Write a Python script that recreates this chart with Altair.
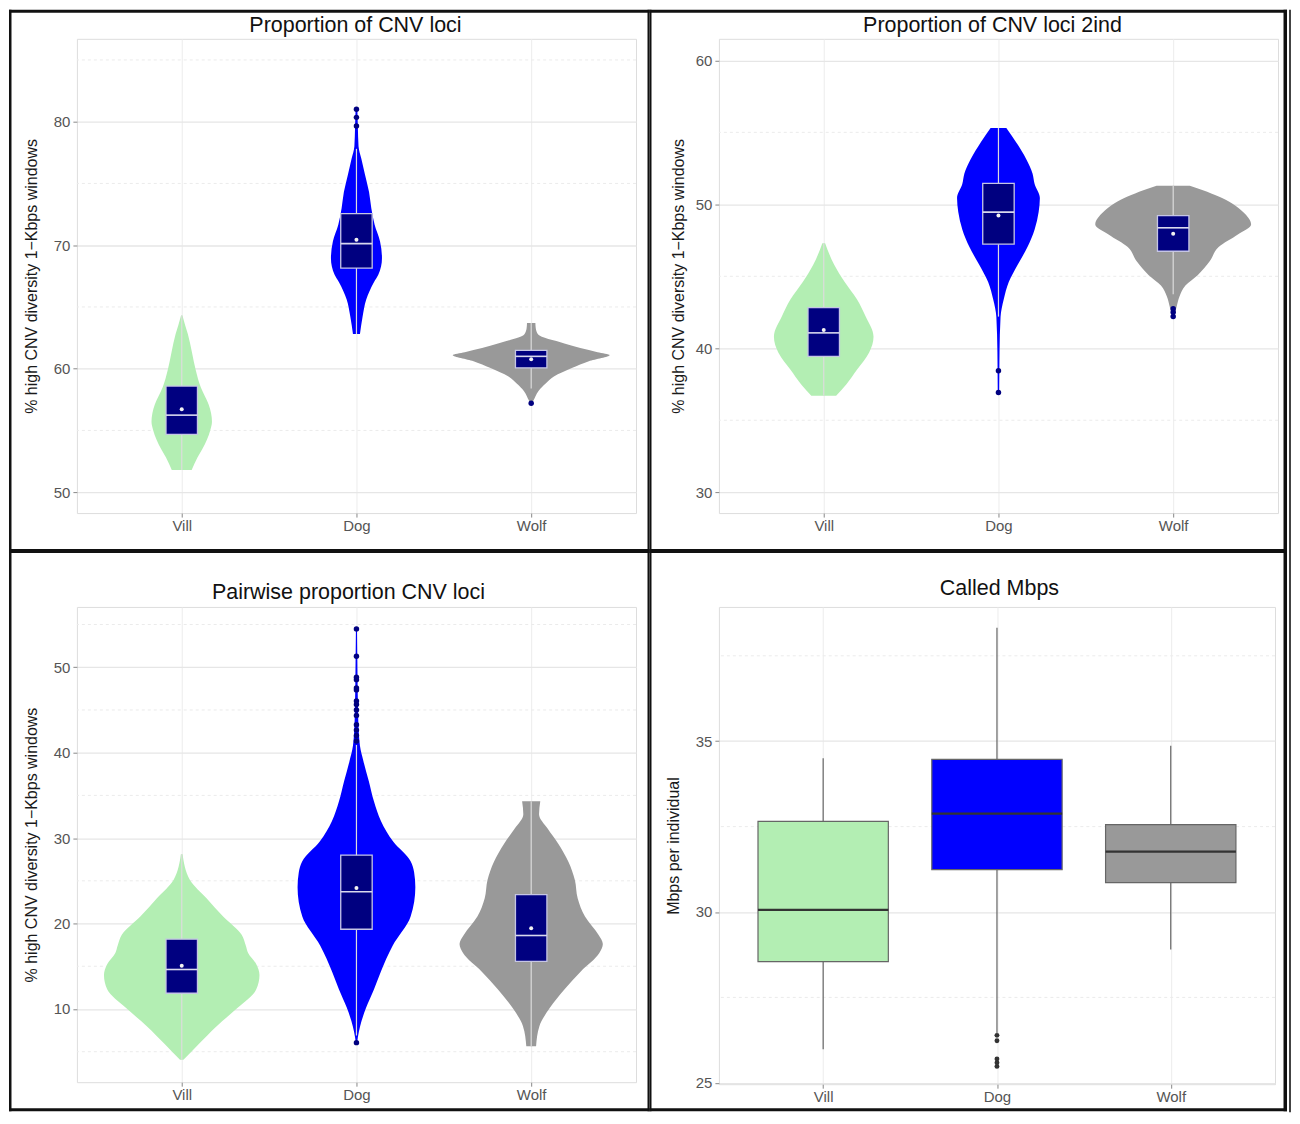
import altair as alt
import pandas as pd

FONT = "Liberation Sans"

# ---------------- shared categories ----------------
categories = ["Vill", "Dog", "Wolf"]
fill_colors = ["#b3eeb3", "#0000ff", "#999999"]
x_domain = [0.4, 3.6]

# ---------------- Panel 1 ----------------
p1_title = "Proportion of CNV loci"
p1_ytitle = "% high CNV diversity 1\u2212Kbps windows"
p1_ydomain = [48.31, 86.71]
p1_major = [50, 60, 70, 80]
p1_minor = [55, 65, 75, 85]
p1_vill_v = [51.8, 52.8, 53.5, 54.25, 55.0, 55.7, 56.4, 57.1, 58.5, 59.9, 61.3, 62.8, 63.5, 64.3]
p1_vill_w = [0.057, 0.09, 0.118, 0.144, 0.163, 0.173, 0.168, 0.154, 0.109, 0.08, 0.059, 0.035, 0.02, 0.004]
p1_dog_v = [62.8, 64.2, 65.6, 67.0, 67.6, 68.95, 70.3, 71.65, 73.0, 74.3, 75.7, 77.0, 78.0, 79.6, 81.0]
p1_dog_w = [0.02, 0.035, 0.056, 0.1, 0.125, 0.146, 0.135, 0.104, 0.085, 0.072, 0.049, 0.028, 0.012, 0.008, 0.005]
p1_wolf_v = [57.2, 57.4, 58.2, 58.8, 59.36, 60.07, 60.6, 61.1, 61.34, 62.05, 62.76, 63.3, 63.7]
p1_wolf_w = [0.004, 0.012, 0.042, 0.083, 0.13, 0.236, 0.33, 0.449, 0.38, 0.19, 0.04, 0.026, 0.024]
p1_q1 = [54.68, 68.15, 60.07]
p1_med = [56.24, 70.13, 61.0]
p1_q3 = [58.59, 72.55, 61.48]
p1_mean = [56.72, 70.45, 60.77]
p1_wlo = [51.8, 62.8, 58.4]
p1_whi = [64.3, 77.8, 63.7]
p1_out_cat = ["Dog", "Dog", "Dog", "Wolf"]
p1_out_v = [79.65, 80.35, 81.0, 57.2]

# ---------------- Panel 2 ----------------
p2_title = "Proportion of CNV loci 2ind"
p2_ytitle = "% high CNV diversity 1\u2212Kbps windows"
p2_ydomain = [28.55, 61.5]
p2_major = [30, 40, 50, 60]
p2_minor = [35, 45, 55]
p2_vill_v = [36.7, 37.5, 38.5, 39.7, 40.8, 42.2, 43.4, 44.6, 45.8, 47.3]
p2_vill_w = [0.071, 0.13, 0.19, 0.26, 0.285, 0.24, 0.19, 0.12, 0.06, 0.008]
p2_dog_v = [36.9, 38.4, 39.7, 42.17, 43.38, 44.6, 45.8, 47.03, 48.25, 49.46, 50.44, 51.41, 52.14, 53.11, 54.33, 55.3]
p2_dog_w = [0.004, 0.005, 0.006, 0.012, 0.03, 0.059, 0.11, 0.166, 0.207, 0.23, 0.237, 0.207, 0.195, 0.16, 0.1, 0.045]
p2_wolf_v = [42.2, 42.9, 43.6, 44.36, 45.08, 46.06, 47.03, 47.9, 48.6, 49.46, 50.44, 51.29]
p2_wolf_w = [0.006, 0.02, 0.036, 0.07, 0.14, 0.21, 0.26, 0.37, 0.446, 0.4, 0.28, 0.095]
p2_q1 = [39.44, 47.23, 46.74]
p2_med = [41.07, 49.46, 48.37]
p2_q3 = [42.82, 51.46, 49.22]
p2_mean = [41.27, 49.22, 47.96]
p2_wlo = [36.7, 42.2, 43.75]
p2_whi = [47.3, 55.3, 51.29]
p2_out_cat = ["Dog", "Dog", "Wolf", "Wolf", "Wolf"]
p2_out_v = [38.44, 36.93, 42.75, 42.5, 42.2]

# ---------------- Panel 3 ----------------
p3_title = "Pairwise proportion CNV loci"
p3_ytitle = "% high CNV diversity 1\u2212Kbps windows"
p3_ydomain = [1.43, 57.06]
p3_major = [10, 20, 30, 40, 50]
p3_minor = [5, 15, 25, 35, 45, 55]
p3_vill_v = [4.05, 5.85, 7.99, 10.13, 12.27, 13.98, 15.26, 16.55, 17.4, 18.68, 20.82, 22.96, 25.1, 28.1]
p3_vill_w = [0.01, 0.095, 0.2, 0.32, 0.426, 0.445, 0.426, 0.38, 0.367, 0.343, 0.237, 0.142, 0.047, 0.005]
p3_dog_v = [6.06, 6.7, 7.99, 10.13, 12.27, 14.4, 17.4, 20.82, 24.25, 26.0, 27.3, 29.6, 32.0, 34.3,
            36.7, 39.0, 40.8, 44.0, 50.8, 54.5]
p3_dog_w = [0.004, 0.008, 0.021, 0.055, 0.1, 0.14, 0.207, 0.31, 0.337, 0.33, 0.31, 0.21, 0.14, 0.1,
            0.07, 0.04, 0.02, 0.01, 0.005, 0.003]
p3_wolf_v = [5.64, 7.99, 10.13, 12.27, 14.4, 16.55, 17.6, 18.68, 20.82, 22.96, 25.1, 27.24, 29.38, 31.09, 32.8, 34.3]
p3_wolf_w = [0.028, 0.047, 0.107, 0.19, 0.284, 0.39, 0.41, 0.385, 0.308, 0.266, 0.25, 0.213, 0.154, 0.095, 0.045, 0.052]
p3_q1 = [11.84, 19.33, 15.56]
p3_med = [14.62, 23.73, 18.6]
p3_q3 = [18.17, 28.0, 23.39]
p3_mean = [15.05, 24.16, 19.45]
p3_wlo = [4.05, 6.9, 5.64]
p3_whi = [28.1, 40.9, 34.3]
p3_out_v = [54.49, 51.28, 48.84, 48.55, 47.56, 47.35, 46.06, 45.64, 45.0, 44.35, 43.28, 42.64, 42.0, 41.36, 6.06]
p3_out_cat = ["Dog"] * len(p3_out_v)

# ---------------- Panel 4 ----------------
p4_title = "Called Mbps"
p4_ytitle = "Mbps per individual"
p4_ydomain = [24.96, 38.93]
p4_major = [25, 30, 35]
p4_minor = [27.5, 32.5, 37.5]
p4_q1 = [28.55, 31.24, 30.86]
p4_med = [30.06, 32.88, 31.77]
p4_q3 = [32.65, 34.47, 32.56]
p4_wlo = [25.98, 26.45, 28.9]
p4_whi = [34.5, 38.32, 34.87]
p4_out_cat = ["Dog"] * 5
p4_out_v = [26.39, 26.23, 25.70, 25.59, 25.48]

# ---------------- helpers ----------------
label_expr = " : ".join(f"datum.value == {i + 1} ? '{c}'" for i, c in enumerate(categories)) + " : ''"
pos = {c: i + 1 for i, c in enumerate(categories)}
one = pd.DataFrame({"k": [0]})


def violin_frame(profiles):
    rows = []
    for cat, (vals, widths) in zip(categories, profiles):
        c = pos[cat]
        for v, w in zip(vals, widths):
            rows.append({"cat": cat, "v": v, "lo": c - w, "hi": c + w})
    return pd.DataFrame(rows)


def stats_frame(q1, med, q3, wlo, whi, mean, half):
    return pd.DataFrame({
        "cat": categories,
        "c": [pos[c] for c in categories],
        "bl": [pos[c] - half for c in categories],
        "bh": [pos[c] + half for c in categories],
        "q1": q1, "med": med, "q3": q3, "wlo": wlo, "whi": whi,
        "mean": mean if mean is not None else [0, 0, 0],
    })


def bar(x0, x1, y0, y1, color="#111111"):
    # decorative frame bar (filled rect so its bounds are exact)
    return (alt.Chart(one).mark_rect(color=color, opacity=1)
            .encode(x=alt.value(x0), x2=alt.value(x1), y=alt.value(y0), y2=alt.value(y1)))


def make_panel(title, title_x, title_y, ytitle, ytitle_pad, ydomain, major, minor, width, height,
               frame_bars, violins=None, stats=None, out_cat=None, out_v=None, style="violin"):
    xs = alt.Scale(domain=x_domain, nice=False, zero=False)
    ys = alt.Scale(domain=ydomain, nice=False, zero=False)
    x_axis = alt.Axis(values=[1, 2, 3], labelExpr=label_expr, grid=True, gridColor="#ececec",
                      gridWidth=1, domain=False, ticks=True, tickSize=4, tickColor="#888888",
                      labelFontSize=15, labelColor="#555555", labelFont=FONT, labelPadding=1,
                      title=None)
    y_axis = alt.Axis(values=major, grid=True, gridColor="#e6e6e6", gridWidth=1.3, domain=False,
                      ticks=True, tickSize=4, tickColor="#888888", labelFontSize=15,
                      labelColor="#555555", labelFont=FONT, labelPadding=3, format="d",
                      title=ytitle, titleFont=FONT, titleFontSize=16, titleFontWeight="normal",
                      titleColor="#1a1a1a", titlePadding=ytitle_pad)

    def X(f):
        return alt.X(f, type="quantitative", scale=xs, axis=x_axis)

    def Y(f):
        return alt.Y(f, type="quantitative", scale=ys, axis=y_axis)

    color = alt.Color("cat:N", scale=alt.Scale(domain=categories, range=fill_colors), legend=None)

    layers = []
    layers.append(
        alt.Chart(pd.DataFrame({"m": minor}))
        .mark_rule(color="#ebebeb", strokeDash=[3, 3], strokeWidth=1)
        .encode(y=Y("m"))
    )
    out_df = pd.DataFrame({"c": [pos[c] for c in out_cat], "v": out_v})
    sdf = stats
    if style == "violin":
        vdf = violin_frame(violins)
        layers.append(
            alt.Chart(vdf).mark_area(orient="horizontal", interpolate="monotone", opacity=1)
            .encode(y=Y("v"), x=alt.X("lo", type="quantitative", scale=xs, axis=x_axis, stack=None),
                    x2="hi", color=color, detail="cat:N")
        )
        layers.append(alt.Chart(sdf).mark_rule(color="#dcdcdc", strokeWidth=1.2)
                      .encode(x=X("c"), y=Y("wlo"), y2="whi"))
        layers.append(alt.Chart(sdf).mark_rect(fill="#000080", stroke="#c5c5e5", strokeWidth=1.3)
                      .encode(x=X("bl"), x2="bh", y=Y("q1"), y2="q3"))
        layers.append(alt.Chart(sdf).mark_rule(color="#d8d8ee", strokeWidth=1.6)
                      .encode(x=X("bl"), x2="bh", y=Y("med")))
        layers.append(alt.Chart(sdf).mark_circle(color="#f2f2f2", size=16, opacity=1)
                      .encode(x=X("c"), y=Y("mean")))
        layers.append(alt.Chart(out_df).mark_circle(color="#000080", size=30, opacity=1)
                      .encode(x=X("c"), y=Y("v")))
    else:
        layers.append(alt.Chart(sdf).mark_rule(color="#666666", strokeWidth=1.2)
                      .encode(x=X("c"), y=Y("wlo"), y2="whi"))
        layers.append(alt.Chart(sdf).mark_rect(stroke="#666666", strokeWidth=1.2, opacity=1)
                      .encode(x=X("bl"), x2="bh", y=Y("q1"), y2="q3", color=color))
        layers.append(alt.Chart(sdf).mark_rule(color="#333333", strokeWidth=2.2)
                      .encode(x=X("bl"), x2="bh", y=Y("med")))
        layers.append(alt.Chart(out_df).mark_circle(color="#333333", size=24, opacity=1)
                      .encode(x=X("c"), y=Y("v")))

    # panel title as a text mark above the plot area
    layers.append(
        alt.Chart(one).mark_text(text=title, font=FONT, fontSize=21.5, color="#111111",
                                 align="center", baseline="alphabetic")
        .encode(x=alt.value(title_x), y=alt.value(title_y))
    )
    for fb in frame_bars:
        layers.append(bar(*fb))

    return alt.layer(*layers).properties(width=width, height=height)


# frame bars per panel, in each panel's own pixel space (x0, x1, y0, y1[, colour])
p1_frame = [(-68, -65.5, -29, 513), (-68, 573.5, -29, -26), (571.5, 573.5, -29, 513), (-68, 573.5, 511, 513)]
p2_frame = [(-69.5, -67.5, -29, 513), (-69.5, 569, -29, -26), (565.5, 569, -29, 513), (-69.5, 569, 511, 513),
            (571, 573, -29, 1075, "#444444")]
p3_frame = [(-68, -65.5, -56, 505), (-68, 573.5, -56, -54), (571.5, 573.5, -56, 505), (-68, 573.5, 502, 505)]
p4_frame = [(-69.5, -67.5, -56, 505), (-69.5, 569, -56, -54), (565.5, 569, -56, 505), (-69.5, 569, 502, 505)]

p1 = make_panel(p1_title, 279, -7, p1_ytitle, 14, p1_ydomain, p1_major, p1_minor, 560, 475, p1_frame,
                violins=[(p1_vill_v, p1_vill_w), (p1_dog_v, p1_dog_w), (p1_wolf_v, p1_wolf_w)],
                stats=stats_frame(p1_q1, p1_med, p1_q3, p1_wlo, p1_whi, p1_mean, 0.09),
                out_cat=p1_out_cat, out_v=p1_out_v)

p2 = make_panel(p2_title, 274, -7, p2_ytitle, 9, p2_ydomain, p2_major, p2_minor, 560, 475, p2_frame,
                violins=[(p2_vill_v, p2_vill_w), (p2_dog_v, p2_dog_w), (p2_wolf_v, p2_wolf_w)],
                stats=stats_frame(p2_q1, p2_med, p2_q3, p2_wlo, p2_whi, p2_mean, 0.09),
                out_cat=p2_out_cat, out_v=p2_out_v)

p3 = make_panel(p3_title, 272, -8, p3_ytitle, 14, p3_ydomain, p3_major, p3_minor, 560, 476, p3_frame,
                violins=[(p3_vill_v, p3_vill_w), (p3_dog_v, p3_dog_w), (p3_wolf_v, p3_wolf_w)],
                stats=stats_frame(p3_q1, p3_med, p3_q3, p3_wlo, p3_whi, p3_mean, 0.09),
                out_cat=p3_out_cat, out_v=p3_out_v)

p4 = make_panel(p4_title, 281, -12, p4_ytitle, 14, p4_ydomain, p4_major, p4_minor, 557, 478, p4_frame,
                stats=stats_frame(p4_q1, p4_med, p4_q3, p4_wlo, p4_whi, None, 0.375),
                out_cat=p4_out_cat, out_v=p4_out_v, style="box")

chart = (
    alt.concat(p1, p2, p3, p4, columns=2, spacing={"row": 94, "column": 83}, bounds="flush")
    .properties(padding=0, background="white")
    .configure_view(stroke="#b3b3b3", strokeWidth=1.2)
    .configure(font=FONT)
)

chart.save("out.html", embed_options={"renderer": "svg", "actions": False})
